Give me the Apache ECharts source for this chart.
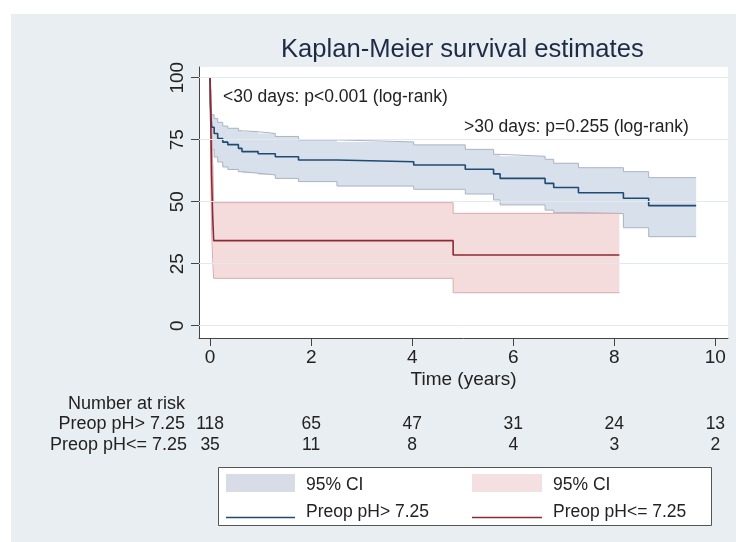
<!DOCTYPE html>
<html>
<head>
<meta charset="utf-8">
<title>Kaplan-Meier survival estimates</title>
<script src="https://cdn.jsdelivr.net/npm/echarts@6/dist/echarts.min.js"></script>
<style>
  html, body { margin: 0; padding: 0; background: #fff; }
  #main { width: 736px; height: 542px; }
</style>
</head>
<body>
<div id="main"></div>
<script>
// Preop pH > 7.25
var blueTime  = [0, 0.005, 0.015, 0.03, 0.08, 0.15, 0.25, 0.35, 0.56, 0.63, 0.95, 1.29, 1.75, 2.51, 4.03, 5.05, 5.61, 5.74, 6.63, 6.80, 7.29, 8.18, 8.68, 9.62];
var blueSurv  = [100, 90, 85, 80, 77.5, 75.5, 74, 73, 71.5, 70.2, 69.3, 68.1, 66.8, 66.1, 64.8, 63.1, 61.2, 59.4, 57.4, 55.7, 53.6, 51.4, 48.4, 48.4];
var blueUpper = [100, 95, 90, 85, 83.5, 82, 80.5, 79.6, 78.6, 78.2, 77.5, 76.3, 74.9, 74.1, 72.9, 71.1, 69.1, 68.3, 67.1, 65.5, 63.7, 62.1, 59.7, 59.7];
var blueLower = [100, 83, 77, 71, 68, 66, 64, 63, 62.1, 61.5, 60.8, 59.4, 58.1, 56.3, 55.0, 53.1, 50.7, 48.7, 46.6, 45.6, 45.2, 39.5, 35.9, 35.9];

// Preop pH <= 7.25
var redTime  = [0, 0.015, 0.03, 0.05, 0.07, 4.81, 8.1];
var redSurv  = [100, 80, 60, 45, 34.3, 28.5, 28.5];
var redUpper = [100, 95, 85, 65, 49.6, 45.3, 45.3];
var redLower = [100, 60, 38, 27, 19.1, 13.3, 13.3];

var xTicks = [0, 2, 4, 6, 8, 10];
var yTicks = [0, 25, 50, 75, 100];
var riskHigh = [118, 65, 47, 31, 24, 13];
var riskLow = [35, 11, 8, 4, 3, 2];

var FONT = 'Liberation Sans, Arial, Helvetica, sans-serif';
var TXT = '#222';

var chart = echarts.init(document.getElementById('main'));

function pairs(t, v) {
    return t.map(function (x, i) { return [x, v[i]]; });
}

/* band between upper and lower CI, drawn as one step polygon */
function bandSeries(t, up, lo, fill) {
    return {
        type: 'custom',
        z: 2,
        silent: true,
        clip: true,
        data: [[t[0], up[0]]],
        renderItem: function (params, api) {
            var pts = [];
            for (var i = 0; i < t.length; i++) {
                if (i > 0) pts.push(api.coord([t[i], up[i - 1]]));
                pts.push(api.coord([t[i], up[i]]));
            }
            for (var j = t.length - 1; j >= 0; j--) {
                pts.push(api.coord([t[j], lo[j]]));
                if (j > 0) pts.push(api.coord([t[j], lo[j - 1]]));
            }
            return { type: 'polygon', shape: { points: pts }, style: { fill: fill } };
        }
    };
}

function stepLine(t, v, color, width, z) {
    return {
        type: 'line',
        step: 'end',
        data: pairs(t, v),
        symbol: 'none',
        silent: true,
        z: z,
        lineStyle: { color: color, width: width }
    };
}

function riskAxis(values, offset) {
    return {
        type: 'value',
        gridIndex: 0,
        position: 'bottom',
        offset: offset,
        min: -0.22,
        max: 10.25,
        axisLine: { show: false },
        axisTick: { show: false },
        splitLine: { show: false },
        axisLabel: {
            customValues: xTicks,
            margin: 0,
            fontFamily: FONT,
            fontSize: 17.5,
            color: TXT,
            formatter: function (v) { return String(values[xTicks.indexOf(v)]); }
        }
    };
}

var option = {
    animation: false,
    backgroundColor: '#fff',
    title: {
        text: 'Kaplan-Meier survival estimates',
        left: 281,
        top: 37,
        padding: 0,
        textStyle: { fontFamily: FONT, fontSize: 25.6, fontWeight: 'normal', color: '#1e2b45' }
    },
    grid: {
        left: 199, top: 67, width: 529, height: 271,
        show: true, backgroundColor: '#fff', borderWidth: 0
    },
    xAxis: [{
        type: 'value',
        min: -0.22,
        max: 10.25,
        name: 'Time (years)',
        nameLocation: 'middle',
        nameGap: 32,
        nameTextStyle: { fontFamily: FONT, fontSize: 19, color: TXT },
        axisLine: { show: true, onZero: false, lineStyle: { color: '#444', width: 1 } },
        axisTick: { customValues: xTicks, length: 8, lineStyle: { color: '#444' } },
        axisLabel: { customValues: xTicks, margin: 10, fontFamily: FONT, fontSize: 19, color: TXT },
        splitLine: { show: false }
    }, riskAxis(riskHigh, 77), riskAxis(riskLow, 98)],
    yAxis: {
        type: 'value',
        min: -4.95,
        max: 104.3,
        axisLine: { show: true, onZero: false, lineStyle: { color: '#444', width: 1 } },
        axisTick: { customValues: yTicks, length: 8, lineStyle: { color: '#444' } },
        axisLabel: { customValues: yTicks, rotate: 90, margin: 12, fontFamily: FONT, fontSize: 19, color: TXT },
        splitLine: { show: false }
    },
    series: [
        {
            type: 'line',
            data: [],
            z: 1,
            silent: true,
            markLine: {
                silent: true,
                symbol: 'none',
                label: { show: false },
                lineStyle: { color: '#e4e9ee', width: 1, type: 'solid' },
                data: yTicks.map(function (y) { return { yAxis: y }; })
            }
        },
        bandSeries(blueTime, blueUpper, blueLower, '#d8e0eb'),
        bandSeries(redTime, redUpper, redLower, 'rgba(240,208,210,0.75)'),
        stepLine(blueTime, blueUpper, '#a7b4c5', 1, 3),
        stepLine(blueTime, blueLower, '#a7b4c5', 1, 3),
        stepLine(redTime, redUpper, '#dcaaac', 1, 3),
        stepLine(redTime, redLower, '#dcaaac', 1, 3),
        stepLine(blueTime, blueSurv, '#1f4a73', 1.6, 4),
        stepLine(redTime, redSurv, '#8b2a35', 1.6, 4)
    ],
    graphic: [
        // panel behind everything
        { type: 'rect', z: -10, shape: { x: 11, y: 14, width: 725, height: 528 }, style: { fill: '#e8eef2' }, silent: true },
        { type: 'text', x: 223, y: 97, style: { text: '<30 days: p<0.001 (log-rank)', font: '17.5px ' + FONT, fill: TXT, verticalAlign: 'middle' }, z: 10 },
        { type: 'text', x: 464, y: 127.5, style: { text: '>30 days: p=0.255 (log-rank)', font: '17.5px ' + FONT, fill: TXT, verticalAlign: 'middle' }, z: 10 },
        { type: 'text', x: 185, y: 404.5, style: { text: 'Number at risk', font: '18px ' + FONT, fill: TXT, align: 'right', verticalAlign: 'middle' } },
        { type: 'text', x: 185, y: 424.5, style: { text: 'Preop pH> 7.25', font: '18px ' + FONT, fill: TXT, align: 'right', verticalAlign: 'middle' } },
        { type: 'text', x: 187, y: 445, style: { text: 'Preop pH<= 7.25', font: '18px ' + FONT, fill: TXT, align: 'right', verticalAlign: 'middle' } },
        // legend
        { type: 'rect', shape: { x: 218.5, y: 467.5, width: 493, height: 58 }, style: { fill: '#fff', stroke: '#555', lineWidth: 1 } },
        { type: 'rect', shape: { x: 226, y: 474, width: 69, height: 18 }, style: { fill: '#d7dce6' } },
        { type: 'text', x: 306, y: 485, style: { text: '95% CI', font: '17.5px ' + FONT, fill: TXT, verticalAlign: 'middle' } },
        { type: 'line', shape: { x1: 226, y1: 517.5, x2: 295, y2: 517.5 }, style: { stroke: '#1f4a73', lineWidth: 1.5 } },
        { type: 'text', x: 306, y: 512.5, style: { text: 'Preop pH> 7.25', font: '17.5px ' + FONT, fill: TXT, verticalAlign: 'middle' } },
        { type: 'rect', shape: { x: 472, y: 474, width: 70, height: 18 }, style: { fill: '#f4e0e0' } },
        { type: 'text', x: 553, y: 485, style: { text: '95% CI', font: '17.5px ' + FONT, fill: TXT, verticalAlign: 'middle' } },
        { type: 'line', shape: { x1: 472, y1: 517.5, x2: 542, y2: 517.5 }, style: { stroke: '#8b2a35', lineWidth: 1.5 } },
        { type: 'text', x: 553, y: 512.5, style: { text: 'Preop pH<= 7.25', font: '17.5px ' + FONT, fill: TXT, verticalAlign: 'middle' } }
    ]
};

chart.setOption(option);
</script>
</body>
</html>
